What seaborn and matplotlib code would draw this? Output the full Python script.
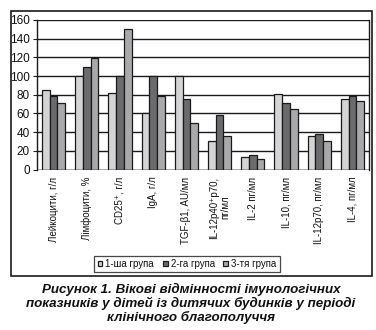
import matplotlib
matplotlib.use("Agg")
import matplotlib.pyplot as plt
import seaborn as sns
import pandas as pd
from matplotlib.patches import Rectangle

categories = ["Лейкоцити, г/л", "Лімфоцити, %", "CD25⁺, г/л", "IgA, г/л", "TGF-β1, AU/мл",
              "IL-12p40⁺p70,\nпг/мл", "IL-2 пг/мл", "IL-10, пг/мл", "IL-12p70, пг/мл", "IL-4, пг/мл"]
groups = ["1-ша група", "2-га група", "3-тя група"]
g1 = [85, 100, 82, 61, 100, 30, 13, 81, 36, 75]
g2 = [79, 110, 100, 100, 75, 58, 15, 71, 38, 79]
g3 = [71, 119, 150, 79, 50, 36, 11, 65, 30, 73]
yticks = [0, 20, 40, 60, 80, 100, 120, 140, 160]
colors = ["#d4d4d4", "#6b6b6d", "#a9a9ab"]
caption = ("Рисунок 1. Вікові відмінності імунологічних\n"
           "показників у дітей із дитячих будинків у періоді\n"
           "клінічного благополуччя")

rows = []
for grp, vals in zip(groups, [g1, g2, g3]):
    for c, v in zip(categories, vals):
        rows.append({"cat": c, "group": grp, "value": v})
df = pd.DataFrame(rows)

sns.set_style("white")
plt.rcParams['font.family'] = ['Liberation Sans', 'DejaVu Sans']
plt.rcParams['text.color'] = '#111111'
plt.rcParams['xtick.color'] = '#111111'
plt.rcParams['ytick.color'] = '#111111'
plt.rcParams['xtick.labelcolor'] = '#111111'
plt.rcParams['ytick.labelcolor'] = '#111111'

fig = plt.figure(figsize=(3.76, 3.30), dpi=100)
ax = fig.add_axes([37/376, 1-169.5/330, (369-37)/376, (169.5-20)/330])

sns.barplot(data=df, x="cat", y="value", hue="group", palette=colors, width=0.7,
            edgecolor="#1a1a1a", linewidth=0.9, ax=ax, legend=True, zorder=3)
for p in ax.patches:
    p.set_zorder(3)

ax.set_ylim(0, 160)
ax.set_yticks(yticks)
ax.set_yticklabels([str(t) for t in yticks], fontsize=8.5)
ax.yaxis.grid(True, color="#1a1a1a", linewidth=1.0, zorder=0)
ax.set_axisbelow(True)
ax.set_xlim(-0.5, len(categories) - 0.5)
ax.set_xticks(range(len(categories)))
ax.set_xticklabels(categories, rotation=90, fontsize=7, va="top", ha="center")
ax.set_xticks([i + 0.5 for i in range(-1, len(categories))], minor=True)
ax.tick_params(axis="x", which="major", length=0, pad=5)
ax.tick_params(axis="x", which="minor", length=3, width=0.8, color="#1a1a1a", direction="out")
ax.tick_params(axis="y", length=3, width=0.8, color="#1a1a1a", direction="out", left=True, pad=2)
ax.set_xlabel("")
ax.set_ylabel("")
for s in ["top", "bottom"]:
    ax.spines[s].set_visible(False)
ax.spines["left"].set_color("#1a1a1a")
ax.spines["left"].set_linewidth(1.0)
ax.spines["right"].set_color("#1a1a1a")
ax.spines["right"].set_linewidth(1.0)
ax.axhline(0, color="#1a1a1a", linewidth=1.0, zorder=4)

leg = ax.legend(loc="center", bbox_to_anchor=(187/376, 1-264/330), bbox_transform=fig.transFigure,
                ncol=3, fontsize=7, frameon=True, handlelength=0.5, handleheight=0.5,
                handletextpad=0.3, columnspacing=0.9, borderpad=0.35, fancybox=False)
leg.get_frame().set_edgecolor("#1a1a1a")
leg.get_frame().set_linewidth(0.9)

fig.patches.append(Rectangle((11/376, 1-276/330), (372-11)/376, (276-11)/330,
                             transform=fig.transFigure, fill=False, edgecolor="#1a1a1a",
                             linewidth=1.2))

fig.text(191/376, 1-303.5/330, caption, ha="center", va="center", fontsize=9.6,
         fontweight="bold", fontstyle="italic", linespacing=1.12, color="#111111")

fig.savefig("out.png", dpi=100)
